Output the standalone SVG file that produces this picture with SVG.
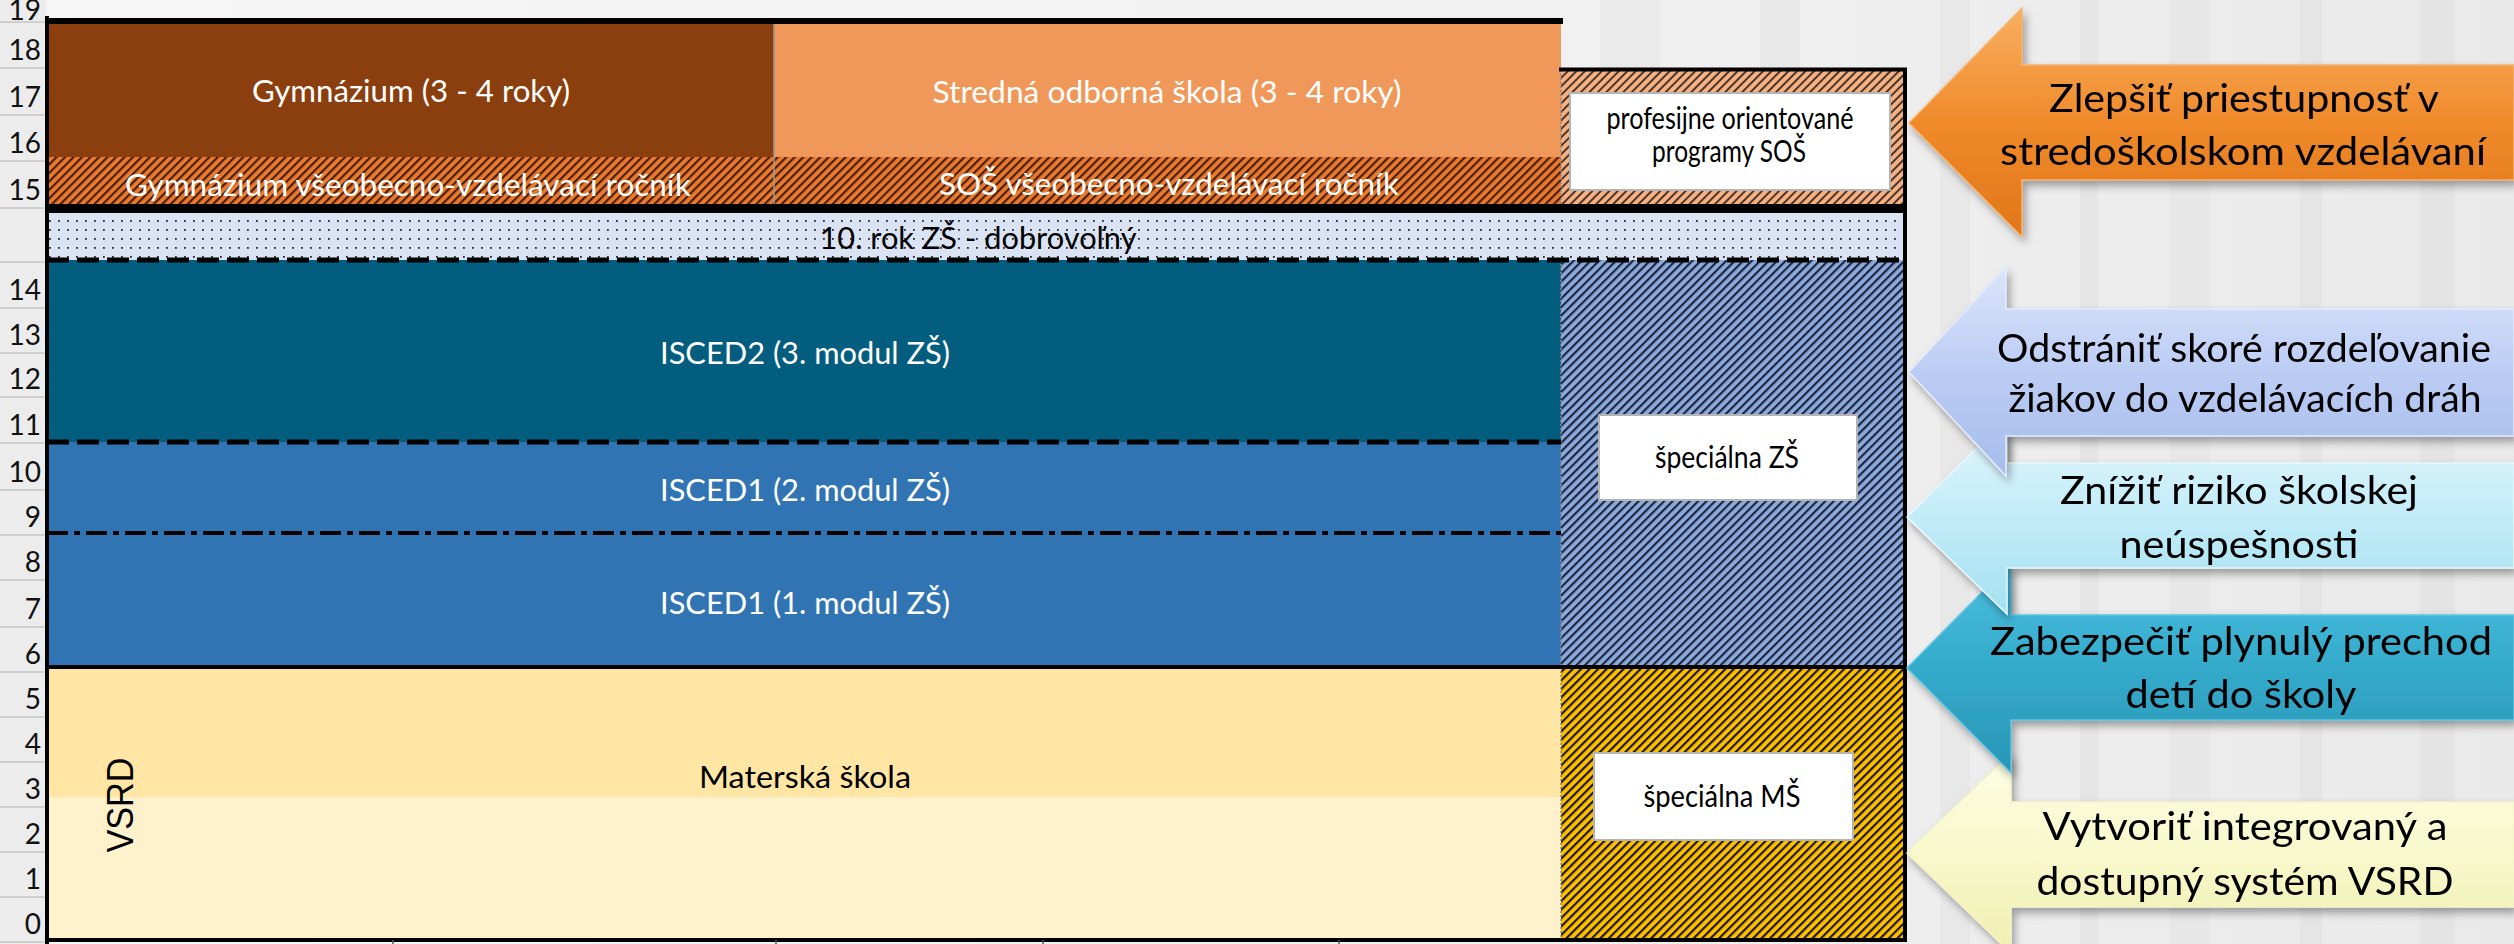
<svg xmlns="http://www.w3.org/2000/svg" width="2514" height="944" viewBox="0 0 2514 944">
<defs>
<style>
.t{font-family:Lato,"Liberation Sans",sans-serif;text-anchor:middle;font-size:31px}
.w{fill:#ffffff}
.k{fill:#000000}
.num{font-family:Lato,"Liberation Sans",sans-serif;font-size:28px;fill:#111;text-anchor:end}
.arr{font-family:Lato,"Liberation Sans",sans-serif;font-size:39px;fill:#000;text-anchor:middle}
.sep{stroke:#cfcfcf;stroke-width:2}
.box{fill:#ffffff;stroke:#b4b4b4;stroke-width:2}
</style>
<pattern id="hGym" patternUnits="userSpaceOnUse" width="6" height="6" patternTransform="rotate(45)">
<rect width="6" height="6" fill="#ea7a2f"/><rect width="2.2" height="6" fill="#4a2108"/>
</pattern>
<pattern id="hProf" patternUnits="userSpaceOnUse" width="6" height="6" patternTransform="rotate(45)">
<rect width="6" height="6" fill="#f4b183"/><rect width="2" height="6" fill="#4d3528"/>
</pattern>
<pattern id="hZS" patternUnits="userSpaceOnUse" width="6" height="6" patternTransform="rotate(45)">
<rect width="6" height="6" fill="#8eaadb"/><rect width="2.2" height="6" fill="#1b2742"/>
</pattern>
<pattern id="hMS" patternUnits="userSpaceOnUse" width="6" height="6" patternTransform="rotate(45)">
<rect width="6" height="6" fill="#ffc000"/><rect width="2.2" height="6" fill="#1e1a10"/>
</pattern>
<pattern id="dots" patternUnits="userSpaceOnUse" width="9" height="9">
<rect width="9" height="9" fill="#dae3f3"/><rect x="4" y="4" width="1.8" height="1.8" fill="#2a2a2a"/>
</pattern>
<linearGradient id="gA1" x1="0" y1="0" x2="0" y2="1"><stop offset="0" stop-color="#f8b062"/><stop offset="0.5" stop-color="#f08a2a"/><stop offset="1" stop-color="#e0761a"/></linearGradient>
<linearGradient id="gA2" x1="0" y1="0" x2="0" y2="1"><stop offset="0" stop-color="#dbe5fa"/><stop offset="0.5" stop-color="#bccdf4"/><stop offset="1" stop-color="#a6bcec"/></linearGradient>
<linearGradient id="gA3" x1="0" y1="0" x2="0" y2="1"><stop offset="0" stop-color="#e3f6fc"/><stop offset="0.5" stop-color="#c2ecf8"/><stop offset="1" stop-color="#a5e0f1"/></linearGradient>
<linearGradient id="gA4" x1="0" y1="0" x2="0" y2="1"><stop offset="0" stop-color="#4cc0df"/><stop offset="0.5" stop-color="#34aacb"/><stop offset="1" stop-color="#2996b6"/></linearGradient>
<linearGradient id="gA5" x1="0" y1="0" x2="0" y2="1"><stop offset="0" stop-color="#fdfde6"/><stop offset="0.5" stop-color="#f8f8cc"/><stop offset="1" stop-color="#efefb0"/></linearGradient>
<linearGradient id="gBg" x1="0" y1="0" x2="1" y2="0"><stop offset="0" stop-color="#f6f6f6"/><stop offset="0.6" stop-color="#f1f1f1"/><stop offset="1" stop-color="#e9e9e9"/></linearGradient>
<filter id="sh" x="-10%" y="-20%" width="130%" height="150%"><feDropShadow dx="3" dy="5" stdDeviation="4" flood-color="#000" flood-opacity="0.35"/></filter>
</defs>

<g id="background">
<rect width="2514" height="944" fill="url(#gBg)"/>
<rect x="1940" y="0" width="30" height="944" fill="#dcdcdc" opacity="0.35"/>
<rect x="2080" y="0" width="18" height="944" fill="#d4d4d4" opacity="0.3"/>
<rect x="2170" y="0" width="40" height="944" fill="#e0e0e0" opacity="0.35"/>
<rect x="2300" y="0" width="22" height="944" fill="#d6d6d6" opacity="0.3"/>
<rect x="2420" y="0" width="35" height="944" fill="#dadada" opacity="0.35"/>
<rect x="1600" y="0" width="60" height="68" fill="#e2e2e2" opacity="0.4"/>
<rect x="1760" y="0" width="40" height="68" fill="#dcdcdc" opacity="0.35"/>
</g>

<g id="row-axis">
<rect x="0" y="0" width="46" height="944" fill="#ececec"/>
<g class="sep">
<line x1="0" y1="22" x2="46" y2="22"/><line x1="0" y1="68" x2="46" y2="68"/><line x1="0" y1="115" x2="46" y2="115"/><line x1="0" y1="161" x2="46" y2="161"/><line x1="0" y1="208" x2="46" y2="208"/><line x1="0" y1="262" x2="46" y2="262"/><line x1="0" y1="308" x2="46" y2="308"/><line x1="0" y1="353" x2="46" y2="353"/><line x1="0" y1="397" x2="46" y2="397"/><line x1="0" y1="443" x2="46" y2="443"/><line x1="0" y1="490" x2="46" y2="490"/><line x1="0" y1="535" x2="46" y2="535"/><line x1="0" y1="580" x2="46" y2="580"/><line x1="0" y1="627" x2="46" y2="627"/><line x1="0" y1="672" x2="46" y2="672"/><line x1="0" y1="717" x2="46" y2="717"/><line x1="0" y1="762" x2="46" y2="762"/><line x1="0" y1="807" x2="46" y2="807"/><line x1="0" y1="852" x2="46" y2="852"/><line x1="0" y1="897" x2="46" y2="897"/><line x1="0" y1="942" x2="46" y2="942"/>
</g>
<text class="num" x="41" y="20" font-size="14">19</text>
<text class="num" x="41" y="60">18</text>
<text class="num" x="41" y="107">17</text>
<text class="num" x="41" y="153">16</text>
<text class="num" x="41" y="200">15</text>
<text class="num" x="41" y="300">14</text>
<text class="num" x="41" y="345">13</text>
<text class="num" x="41" y="389">12</text>
<text class="num" x="41" y="435">11</text>
<text class="num" x="41" y="482">10</text>
<text class="num" x="41" y="527">9</text>
<text class="num" x="41" y="572">8</text>
<text class="num" x="41" y="619">7</text>
<text class="num" x="41" y="664">6</text>
<text class="num" x="41" y="709">5</text>
<text class="num" x="41" y="754">4</text>
<text class="num" x="41" y="799">3</text>
<text class="num" x="41" y="844">2</text>
<text class="num" x="41" y="889">1</text>
<text class="num" x="41" y="934">0</text>
</g>

<g id="gymnazium">
<rect x="47" y="22" width="727" height="136" fill="#8b3e0e"/>
<text class="t w" x="411" y="102" textLength="318" lengthAdjust="spacingAndGlyphs">Gymnázium (3 - 4 roky)</text>
</g>
<g id="sos">
<rect x="774" y="22" width="787" height="136" fill="#f0975a"/>
<text class="t w" x="1167" y="103" textLength="469" lengthAdjust="spacingAndGlyphs">Stredná odborná škola (3 - 4 roky)</text>
</g>
<g id="vseobecny-rocnik">
<rect x="47" y="157" width="1514" height="47" fill="url(#hGym)"/>
<line x1="774" y1="22" x2="774" y2="204" stroke="#9a9a9a" stroke-width="1.5"/>
<text class="t w" x="408" y="196" font-size="30" textLength="566" lengthAdjust="spacingAndGlyphs">Gymnázium všeobecno-vzdelávací ročník</text>
<text class="t w" x="1169" y="195" font-size="30" textLength="460" lengthAdjust="spacingAndGlyphs">SOŠ všeobecno-vzdelávací ročník</text>
</g>
<g id="profesijne">
<rect x="1561" y="70" width="345" height="134" fill="url(#hProf)"/>
<line x1="1561" y1="70" x2="1561" y2="204" stroke="#8a8a8a" stroke-width="1.5" stroke-dasharray="2 2"/>
<rect class="box" x="1570" y="93" width="320" height="97"/>
<text class="t k" x="1730" y="129" font-size="21" textLength="247" lengthAdjust="spacingAndGlyphs">profesijne orientované</text>
<text class="t k" x="1729" y="162" font-size="21" textLength="154" lengthAdjust="spacingAndGlyphs">programy SOŠ</text>
</g>
<g id="desiaty-rok">
<rect x="47" y="212" width="1860" height="48" fill="url(#dots)"/>
<text class="t k" x="978" y="249" font-size="27" textLength="317" lengthAdjust="spacingAndGlyphs">10. rok ZŠ - dobrovoľný</text>
</g>
<g id="isced2">
<rect x="47" y="260" width="1514" height="182" fill="#035d7e"/>
<text class="t w" x="805" y="364" textLength="290" lengthAdjust="spacingAndGlyphs">ISCED2 (3. modul ZŠ)</text>
</g>
<g id="isced1-2">
<rect x="47" y="442" width="1514" height="91" fill="#3174b4"/>
<text class="t w" x="805" y="501" textLength="290" lengthAdjust="spacingAndGlyphs">ISCED1 (2. modul ZŠ)</text>
</g>
<g id="isced1-1">
<rect x="47" y="533" width="1514" height="134" fill="#3174b4"/>
<text class="t w" x="805" y="614" textLength="290" lengthAdjust="spacingAndGlyphs">ISCED1 (1. modul ZŠ)</text>
</g>
<g id="specialna-zs">
<rect x="1561" y="260" width="345" height="407" fill="url(#hZS)"/>
<line x1="1561" y1="260" x2="1561" y2="667" stroke="#8a8a8a" stroke-width="1.5" stroke-dasharray="2 2"/>
<rect class="box" x="1599" y="415" width="258" height="85"/>
<text class="t k" x="1727" y="468" font-size="25" textLength="144" lengthAdjust="spacingAndGlyphs">špeciálna ZŠ</text>
</g>
<g id="materska-skola">
<rect x="47" y="667" width="1514" height="130" fill="#ffe6a4"/>
<rect x="47" y="797" width="1514" height="142" fill="#fff1cc"/>
<text class="t k" x="805" y="788" font-size="31" textLength="212" lengthAdjust="spacingAndGlyphs">Materská škola</text>
<text class="k" x="0" y="0" font-family="'Liberation Sans',Arial,sans-serif" font-size="36" text-anchor="middle" transform="translate(133 805) rotate(-90)" textLength="95" lengthAdjust="spacingAndGlyphs">VSRD</text>
</g>
<g id="specialna-ms">
<rect x="1561" y="667" width="345" height="272" fill="url(#hMS)"/>
<line x1="1561" y1="667" x2="1561" y2="939" stroke="#8a8a8a" stroke-width="1.5" stroke-dasharray="2 2"/>
<rect class="box" x="1594" y="753" width="259" height="87"/>
<text class="t k" x="1722" y="807" font-size="25" textLength="157" lengthAdjust="spacingAndGlyphs">špeciálna MŠ</text>
</g>

<g id="lines" fill="none" stroke="#000">
<line x1="47" y1="21" x2="1563" y2="21" stroke-width="6"/>
<line x1="1559" y1="69.5" x2="1907" y2="69.5" stroke-width="4"/>
<line x1="47" y1="208.5" x2="1907" y2="208.5" stroke-width="9"/>
<line x1="47" y1="260" x2="1907" y2="260" stroke-width="5" stroke-dasharray="22 8"/>
<line x1="47" y1="442" x2="1561" y2="442" stroke-width="5" stroke-dasharray="22 8"/>
<line x1="47" y1="533" x2="1561" y2="533" stroke-width="4" stroke-dasharray="21 6 6 6"/>
<line x1="47" y1="667" x2="1907" y2="667" stroke-width="4"/>
<line x1="47" y1="940" x2="1907" y2="940" stroke-width="4"/>
<line x1="47" y1="16" x2="47" y2="944" stroke-width="4"/>
<line x1="1905" y1="68" x2="1905" y2="942" stroke-width="4"/>
<g stroke="#555" stroke-width="1.5"><line x1="393" y1="940" x2="393" y2="944"/><line x1="776" y1="940" x2="776" y2="944"/><line x1="1043" y1="940" x2="1043" y2="944"/><line x1="1339" y1="940" x2="1339" y2="944"/></g>
</g>

<g id="arrow-5" filter="url(#sh)">
<path d="M1907 853 L2011 753 L2011 802 L2514 802 L2514 907 L2011 907 L2011 953 Z" fill="url(#gA5)" stroke="#f4f4c8" stroke-width="1.5"/>
<text class="arr" x="2245" y="840" textLength="405" lengthAdjust="spacingAndGlyphs">Vytvoriť integrovaný a</text>
<text class="arr" x="2245" y="895" textLength="417" lengthAdjust="spacingAndGlyphs">dostupný systém VSRD</text>
</g>
<g id="arrow-4" filter="url(#sh)">
<path d="M1907 668 L2011 563 L2011 615 L2514 615 L2514 720 L2011 720 L2011 773 Z" fill="url(#gA4)" stroke="#5cc6e2" stroke-width="1.5"/>
<text class="arr" x="2241" y="655" textLength="502" lengthAdjust="spacingAndGlyphs">Zabezpečiť plynulý prechod</text>
<text class="arr" x="2241" y="708" textLength="231" lengthAdjust="spacingAndGlyphs">detí do školy</text>
</g>
<g id="arrow-3" filter="url(#sh)">
<path d="M1907 517 L2007 418 L2007 463 L2514 463 L2514 568 L2007 568 L2007 614 Z" fill="url(#gA3)" stroke="#e8f8fd" stroke-width="1.5"/>
<text class="arr" x="2239" y="504" textLength="358" lengthAdjust="spacingAndGlyphs">Znížiť riziko školskej</text>
<text class="arr" x="2239" y="558" textLength="239" lengthAdjust="spacingAndGlyphs">neúspešnosti</text>
</g>
<g id="arrow-2" filter="url(#sh)">
<path d="M1909 372 L2006 267 L2006 309 L2514 309 L2514 436 L2006 436 L2006 476 Z" fill="url(#gA2)" stroke="#e2eafb" stroke-width="1.5"/>
<text class="arr" x="2244" y="362" textLength="494" lengthAdjust="spacingAndGlyphs">Odstrániť skoré rozdeľovanie</text>
<text class="arr" x="2245" y="412" textLength="473" lengthAdjust="spacingAndGlyphs">žiakov do vzdelávacích dráh</text>
</g>
<g id="arrow-1" filter="url(#sh)">
<path d="M1909 123 L2022 8 L2022 65 L2514 65 L2514 180 L2022 180 L2022 237 Z" fill="url(#gA1)" stroke="#f7b36c" stroke-width="1.5"/>
<text class="arr" x="2244" y="112" textLength="390" lengthAdjust="spacingAndGlyphs">Zlepšiť priestupnosť v</text>
<text class="arr" x="2243" y="165" textLength="486" lengthAdjust="spacingAndGlyphs">stredoškolskom vzdelávaní</text>
</g>
</svg>
